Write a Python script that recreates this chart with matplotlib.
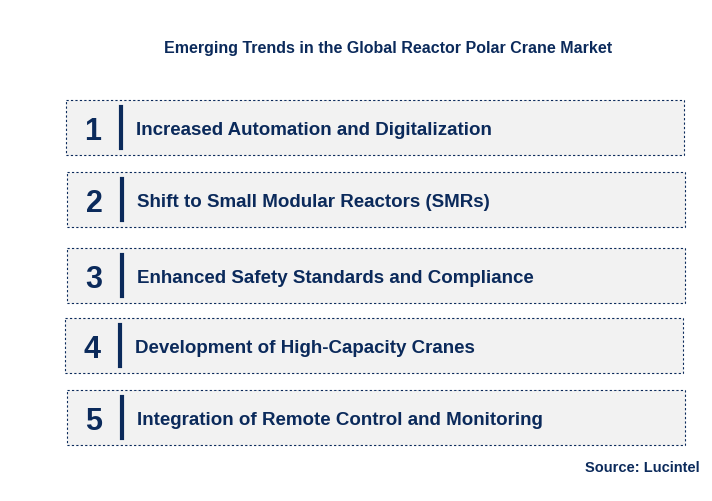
import matplotlib.pyplot as plt
from matplotlib.patches import Rectangle

title = "Emerging Trends in the Global Reactor Polar Crane Market"
numbers = ["1", "2", "3", "4", "5"]
trends = [
    "Increased Automation and Digitalization",
    "Shift to Small Modular Reactors (SMRs)",
    "Enhanced Safety Standards and Compliance",
    "Development of High-Capacity Cranes",
    "Integration of Remote Control and Monitoring",
]
source = "Source: Lucintel"

navy = "#0b2a5b"
box_top = [100, 172, 248, 318, 390]
box_left = [66, 67, 67, 65, 67]
box_w, box_h = 618, 55

fig = plt.figure(figsize=(7.12, 5.01), dpi=100)
ax = fig.add_axes([0, 0, 1, 1])
ax.set_xlim(0, 712)
ax.set_ylim(501, 0)
ax.axis("off")

ax.text(388, 48, title, ha="center", va="center", fontsize=11.5,
        fontweight="bold", color=navy, family="Liberation Sans")

for num, label, top, left in zip(numbers, trends, box_top, box_left):
    ax.add_patch(Rectangle((left, top), box_w, box_h, facecolor="#f2f2f2",
                           edgecolor=navy, linestyle=(0, (2, 2)), linewidth=0.8))
    cy = top + box_h / 2
    ax.text(left + 27, cy + 4, num, ha="center", va="center", fontsize=22,
            fontweight="bold", color=navy, family="Liberation Sans")
    ax.plot([left + 55, left + 55], [top + 7, top + box_h - 7], color=navy, linewidth=3)
    ax.text(left + 70, cy + 3, label, ha="left", va="center", fontsize=13.5,
            fontweight="bold", color=navy, family="Liberation Sans")

ax.text(700, 468, source, ha="right", va="center", fontsize=10.5,
        fontweight="bold", color=navy, family="Liberation Sans")

fig.savefig("out.png", dpi=100, facecolor="white")
